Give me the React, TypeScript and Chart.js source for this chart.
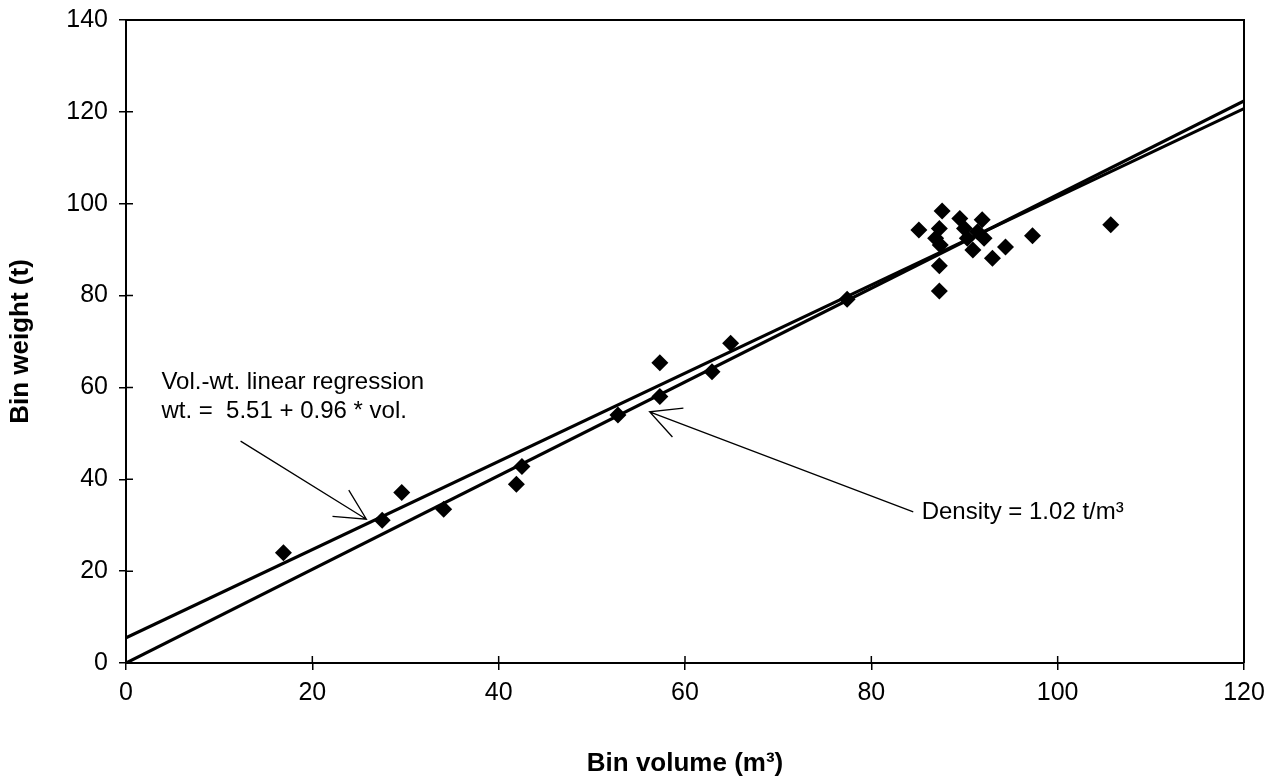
import React, { useEffect, useRef } from "react";
import { Chart, registerables } from "chart.js";

Chart.register(...registerables);

// ---- data ----
const binVolume = [16.9, 27.5, 29.6, 34.1, 41.9, 42.5, 52.8, 57.3, 57.3, 62.9, 64.9, 77.4, 85.1, 87.6, 87.3, 86.9, 87.4, 87.3, 87.3, 89.5, 90.0, 90.3, 90.9, 91.9, 91.4, 92.1, 93.0, 94.4, 97.3, 105.7];
const binWeight = [24.0, 31.1, 37.1, 33.5, 38.9, 42.8, 54.0, 65.4, 58.0, 63.4, 69.6, 79.2, 94.3, 98.4, 94.6, 92.5, 91.0, 86.5, 81.0, 96.8, 94.6, 92.5, 89.9, 96.5, 93.9, 92.5, 88.1, 90.6, 93.0, 95.4];

const lineVolume = [0, 120];
const regressionWeight = [5.51, 120.71];
const densityWeight = [0, 122.4];

const xTicks = [0, 20, 40, 60, 80, 100, 120];
const yTicks = [0, 20, 40, 60, 80, 100, 120, 140];

const xTitle = "Bin volume (m³)";
const yTitle = "Bin weight (t)";
const regLabel = ["Vol.-wt. linear regression", "wt. =  5.51 + 0.96 * vol."];
const densLabel = "Density = 1.02 t/m³";

// annotation anchors (data coordinates)
const regLabelX = 3.8;
const regLabelY = [61.0, 54.8];
const regArrowFrom = [12.3, 48.3];
const regArrowTo = [25.8, 31.3];
const densArrowFrom = [84.5, 32.9];
const densArrowTo = [56.2, 54.7];
const densLabelAt = [85.4, 32.9];

const FONT = "'Liberation Sans', Arial, Helvetica, sans-serif";

function arrow(ctx: CanvasRenderingContext2D, x1: number, y1: number, x2: number, y2: number) {
  ctx.beginPath();
  ctx.moveTo(x1, y1);
  ctx.lineTo(x2, y2);
  const ang = Math.atan2(y1 - y2, x1 - x2);
  const len = 34;
  const spread = (27 * Math.PI) / 180;
  ctx.moveTo(x2 + len * Math.cos(ang - spread), y2 + len * Math.sin(ang - spread));
  ctx.lineTo(x2, y2);
  ctx.lineTo(x2 + len * Math.cos(ang + spread), y2 + len * Math.sin(ang + spread));
  ctx.stroke();
}

const decorPlugin = {
  id: "decor",
  afterDraw(chart: any) {
    const { ctx, chartArea, scales } = chart;
    const xs = scales.x;
    const ys = scales.y;
    ctx.save();
    // frame top/right
    ctx.strokeStyle = "#000";
    ctx.lineWidth = 2;
    ctx.beginPath();
    ctx.moveTo(chartArea.left, chartArea.top);
    ctx.lineTo(chartArea.right, chartArea.top);
    ctx.lineTo(chartArea.right, chartArea.bottom);
    ctx.stroke();
    // inner tick marks
    ctx.lineWidth = 1.5;
    ctx.beginPath();
    xTicks.forEach((v) => {
      const px = xs.getPixelForValue(v);
      ctx.moveTo(px, chartArea.bottom);
      ctx.lineTo(px, chartArea.bottom - 7);
    });
    yTicks.forEach((v) => {
      const py = ys.getPixelForValue(v);
      ctx.moveTo(chartArea.left, py);
      ctx.lineTo(chartArea.left + 7, py);
    });
    ctx.stroke();

    // annotations
    ctx.fillStyle = "#000";
    ctx.font = `24px ${FONT}`;
    ctx.textBaseline = "middle";
    ctx.textAlign = "left";
    regLabel.forEach((t, i) => {
      ctx.fillText(t, xs.getPixelForValue(regLabelX), ys.getPixelForValue(regLabelY[i]));
    });
    ctx.fillText(densLabel, xs.getPixelForValue(densLabelAt[0]), ys.getPixelForValue(densLabelAt[1]));

    ctx.lineWidth = 1.3;
    arrow(
      ctx,
      xs.getPixelForValue(regArrowFrom[0]),
      ys.getPixelForValue(regArrowFrom[1]),
      xs.getPixelForValue(regArrowTo[0]),
      ys.getPixelForValue(regArrowTo[1])
    );
    arrow(
      ctx,
      xs.getPixelForValue(densArrowFrom[0]),
      ys.getPixelForValue(densArrowFrom[1]),
      xs.getPixelForValue(densArrowTo[0]),
      ys.getPixelForValue(densArrowTo[1])
    );
    ctx.restore();
  },
};

export default function App() {
  const ref = useRef<HTMLCanvasElement | null>(null);
  useEffect(() => {
    if (!ref.current) return;
    const chart = new Chart(ref.current, {
      type: "scatter",
      data: {
        datasets: [
          {
            type: "line",
            label: "Regression",
            data: lineVolume.map((x, i) => ({ x, y: regressionWeight[i] })),
            borderColor: "#000",
            borderWidth: 3.2,
            pointRadius: 0,
            fill: false,
          },
          {
            type: "line",
            label: "Density",
            data: lineVolume.map((x, i) => ({ x, y: densityWeight[i] })),
            borderColor: "#000",
            borderWidth: 3.2,
            pointRadius: 0,
            fill: false,
          },
          {
            type: "scatter",
            label: "Bins",
            data: binVolume.map((x, i) => ({ x, y: binWeight[i] })),
            pointStyle: "rectRot",
            pointRadius: 8.5,
            backgroundColor: "#000",
            borderColor: "#000",
            borderWidth: 0,
          },
        ],
      },
      options: {
        animation: false,
        responsive: false,
        events: [],
        layout: { padding: { top: 20, right: 35, left: 0, bottom: 0 } },
        plugins: { legend: { display: false }, tooltip: { enabled: false }, title: { display: false } },
        scales: {
          x: {
            type: "linear",
            min: 0,
            max: 120,
            afterBuildTicks: (s: any) => {
              s.ticks = xTicks.map((v) => ({ value: v }));
            },
            afterFit: (s: any) => {
              s.height = 118;
              s.paddingLeft = 0;
              s.paddingRight = 0;
            },
            ticks: { color: "#000", font: { family: FONT, size: 25 }, padding: 8, maxRotation: 0, autoSkip: false },
            grid: { drawOnChartArea: false, drawTicks: true, tickLength: 7, color: "#000", lineWidth: 1.5 },
            border: { display: true, color: "#000", width: 2 },
            title: { display: true, text: xTitle, color: "#000", font: { family: FONT, size: 26, weight: "bold" }, padding: { top: 2, bottom: 2 } },
          },
          y: {
            type: "linear",
            min: 0,
            max: 140,
            afterBuildTicks: (s: any) => {
              s.ticks = yTicks.map((v) => ({ value: v }));
            },
            afterFit: (s: any) => {
              s.width = 126;
              s.paddingTop = 0;
              s.paddingBottom = 0;
            },
            ticks: { color: "#000", font: { family: FONT, size: 25 }, padding: 11, autoSkip: false },
            grid: { drawOnChartArea: false, drawTicks: true, tickLength: 7, color: "#000", lineWidth: 1.5 },
            border: { display: true, color: "#000", width: 2 },
            title: { display: true, text: yTitle, color: "#000", font: { family: FONT, size: 26, weight: "bold" }, padding: { top: 5, bottom: 5 } },
          },
        },
      },
      plugins: [decorPlugin],
    } as any);
    return () => chart.destroy();
  }, []);
  return (
    <div style={{ position: "absolute", left: 0, top: 0, width: 1279, height: 781, background: "#fff" }}>
      <canvas ref={ref} width={1279} height={781} style={{ display: "block" }} />
    </div>
  );
}
